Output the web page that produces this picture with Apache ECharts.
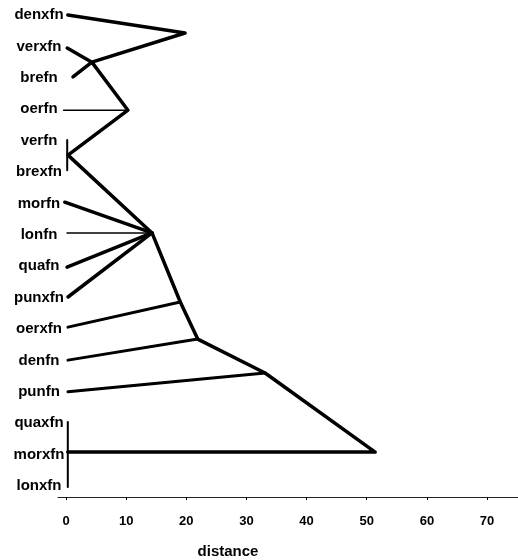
<!DOCTYPE html>
<html>
<head>
<meta charset="utf-8">
<script src="https://cdn.jsdelivr.net/npm/echarts@6/dist/echarts.min.js"></script>
<style>
  html, body { margin: 0; padding: 0; background: #fff; }
  #chart { width: 518px; height: 560px; }
</style>
</head>
<body>
<div id="chart"></div>
<script>
// leaf names, top to bottom (y index 0..15)
var leafNames = ['denxfn', 'verxfn', 'brefn', 'oerfn', 'verfn', 'brexfn', 'morfn', 'lonfn',
  'quafn', 'punxfn', 'oerxfn', 'denfn', 'punfn', 'quaxfn', 'morxfn', 'lonxfn']
var xTicks = [0, 10, 20, 30, 40, 50, 60, 70]

// join points [distance, leaf index]
var n1 = [19.8, 0.57]
var n2 = [4.3, 1.5]
var n3 = [10.3, 3.03]
var n4 = [0.33, 4.46]
var n5 = [14.3, 6.94]
var n6 = [19.0, 9.14]
var n7 = [21.9, 10.32]
var n8 = [33.1, 11.4]
var n9 = [51.4, 13.92]

// thick paths
var pathTop = [[0.3, 0], n1, n2, [1.16, 1.97]]
var pathMain = [[0.2, 1.05], n2, n3, n4, n5, n6, n7, n8, n9, [0.3, 13.92]]
var pathMorfn = [[-0.2, 5.96], n5]
var pathQuafn = [[0.17, 8.03], n5]
var pathPunxfn = [[0.33, 8.98], n5]
var pathOerxfn = [[0.33, 9.94], n6]
var pathDenfn = [[0.33, 10.99], n7]
var pathPunfn = [[0.33, 12.0], n8]
// thin paths
var pathOerfn = [[-0.4, 3.03], n3]
var pathLonfn = [[0.17, 6.94], n5]
var barVerfn = [[0.2, 3.98], [0.2, 4.94]]
var barQuaxfn = [[0.3, 12.96], [0.3, 15.03]]

function seg(data, width) {
  return {
    type: 'line',
    data: data,
    symbol: 'none',
    animation: false,
    lineStyle: { color: '#000', width: width, cap: 'round', join: 'round' }
  }
}

var chart = echarts.init(document.getElementById('chart'))
chart.setOption({
  backgroundColor: '#fff',
  grid: { left: 58, right: 0, top: 0, bottom: 63, outerBoundsMode: 'none' },
  xAxis: {
    type: 'value',
    position: 'bottom',
    min: -1.33,
    max: 75.15,
    name: 'distance',
    nameLocation: 'middle',
    nameGap: 47,
    nameTextStyle: {
      color: '#000', fontFamily: 'Liberation Sans', fontWeight: 'bold', fontSize: 15,
      padding: [0, 120, 0, 0]
    },
    axisLine: { onZero: false, lineStyle: { color: '#222', width: 1 } },
    axisTick: { customValues: xTicks, length: 3, lineStyle: { color: '#000' } },
    axisLabel: {
      customValues: xTicks, margin: 18,
      color: '#000', fontFamily: 'Liberation Sans', fontWeight: 'bold', fontSize: 13
    },
    splitLine: { show: false }
  },
  yAxis: {
    type: 'value',
    inverse: true,
    min: -0.48,
    max: 15.35,
    axisLine: { show: false },
    axisTick: { show: false },
    splitLine: { show: false },
    axisLabel: {
      customValues: leafNames.map(function (d, i) { return i }),
      formatter: function (v) { return leafNames[Math.round(v)] },
      align: 'center',
      margin: 19,
      color: '#000', fontFamily: 'Liberation Sans', fontWeight: 'bold', fontSize: 15
    }
  },
  series: [
    seg(pathTop, 3.5),
    seg(pathMain, 3.5),
    seg(pathMorfn, 3.5),
    seg(pathQuafn, 3.5),
    seg(pathPunxfn, 3.5),
    seg(pathOerxfn, 3),
    seg(pathDenfn, 3),
    seg(pathPunfn, 3),
    seg(pathOerfn, 1.5),
    seg(pathLonfn, 1.5),
    seg(barVerfn, 2),
    seg(barQuaxfn, 2)
  ]
})
</script>
</body>
</html>
